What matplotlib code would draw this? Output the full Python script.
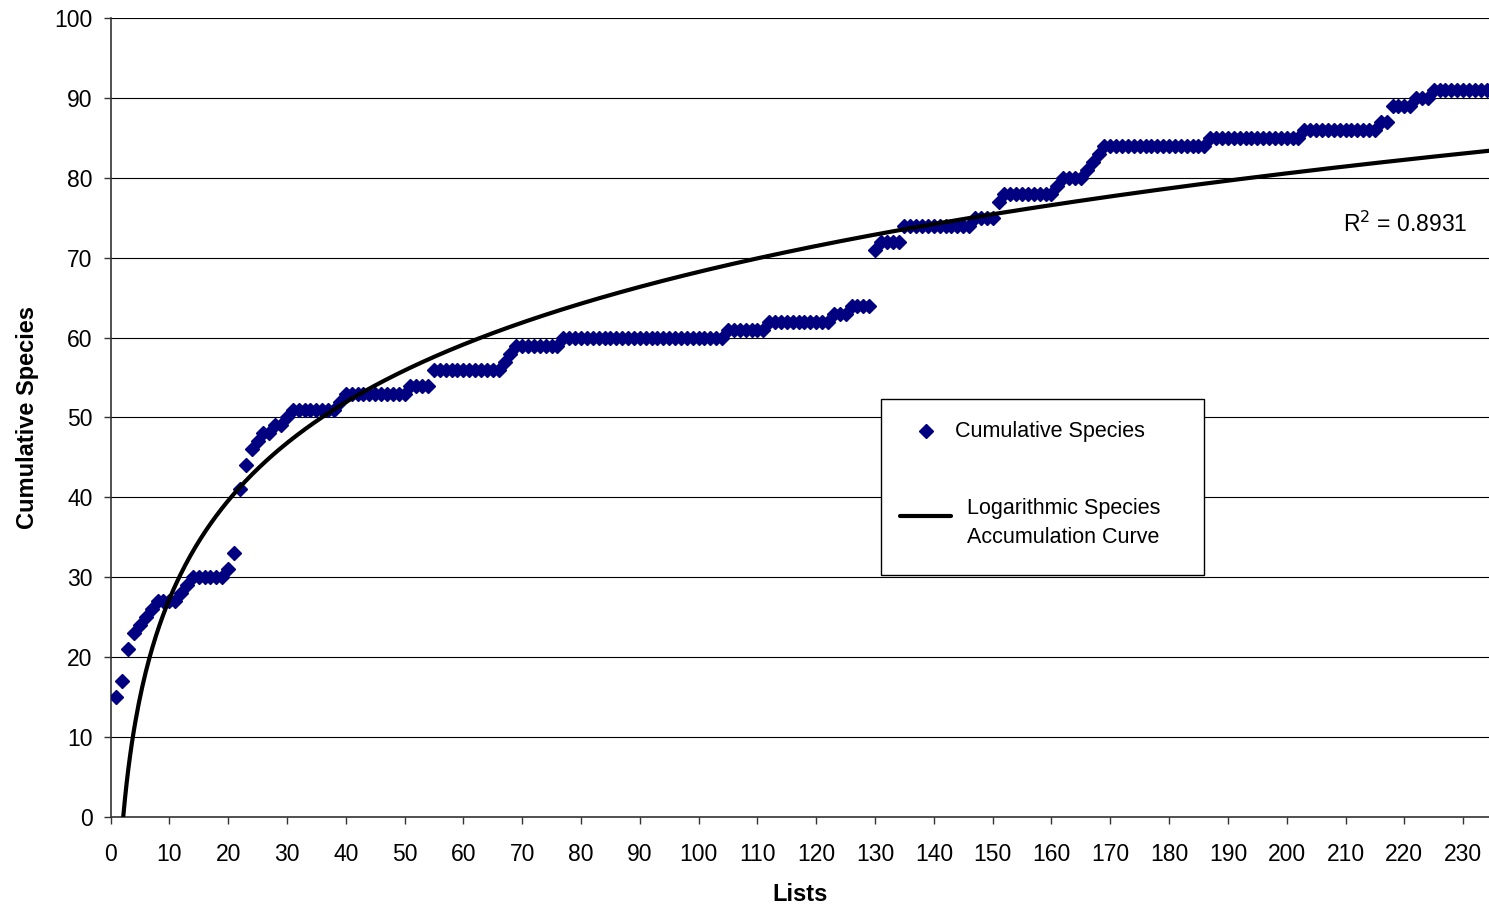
import numpy as np
import matplotlib
matplotlib.use("Agg")
import matplotlib.pyplot as plt
from matplotlib.patches import Rectangle
from matplotlib.lines import Line2D

plt.rcParams['font.family'] = ['Liberation Sans', 'DejaVu Sans']

# ---- data: step runs (species value, number of consecutive lists) ----
run_values = [15, 17, 21, 23, 24, 25, 26, 27, 28, 29, 30, 31, 33, 41, 44, 46, 47, 48, 49, 50,
              51, 52, 53, 54, 56, 57, 58, 59, 60, 61, 62, 63, 64, 71, 72, 74, 75, 77, 78, 79,
              80, 81, 82, 83, 84, 85, 86, 87, 89, 90, 91]
run_lengths = [1, 1, 1, 1, 1, 1, 1, 4, 1, 1, 6, 1, 1, 1, 1, 1, 1, 2, 2, 1,
               8, 1, 11, 4, 12, 1, 1, 8, 28, 7, 11, 3, 4, 1, 4, 12, 4, 1, 9, 1,
               4, 1, 1, 1, 18, 16, 13, 2, 4, 3, 10]

species = np.repeat(run_values, run_lengths).astype(float)
lists = np.arange(1, len(species) + 1)

x_ticks = list(range(0, 240, 10))
y_ticks = list(range(0, 110, 10))
r2_label = "R$^2$ = 0.8931"
series_label = "Cumulative Species"
curve_label = "Logarithmic Species\nAccumulation Curve"

# logarithmic trendline fitted to the data
a, b = np.polyfit(np.log(lists), species, 1)
xc = np.linspace(1, lists.max() + 1, 800)
yc = a * np.log(xc) + b

W, H = 1489, 909
fig = plt.figure(figsize=(W / 100, H / 100), dpi=100)
ax = fig.add_axes([110.5 / W, 1 - 817 / H, 1 - 110.5 / W, (817 - 18) / H])

ax.set_xlim(0, 234.4)
ax.set_ylim(0, 100)

for yv in y_ticks[1:]:
    ax.axhline(yv, color='black', lw=0.8, zorder=1)

ax.plot(lists, species, linestyle='none', marker='D', ms=7.4,
        color='#000080', markeredgecolor='#000080', zorder=3)
ax.plot(xc, yc, color='black', lw=3.0, zorder=4, solid_capstyle='butt')

ax.set_xticks(x_ticks)
ax.set_yticks(y_ticks)
ax.tick_params(axis='both', direction='out', length=5, width=1, labelsize=16.5, color='#333333')
ax.tick_params(axis='x', pad=14)
ax.tick_params(axis='y', pad=8)

for s in ['top', 'right']:
    ax.spines[s].set_visible(False)
for s in ['left', 'bottom']:
    ax.spines[s].set_color('#333333')
    ax.spines[s].set_linewidth(1.2)

ax.set_xlabel("Lists", fontsize=17, fontweight='bold', labelpad=12)
ax.set_ylabel("Cumulative Species", fontsize=17, fontweight='bold', labelpad=11)

ax.text(230.8, 74.2, r2_label, ha='right', va='center', fontsize=16.5)

# ---- legend box drawn in figure pixel coordinates ----
def fx(px):
    return px / W

def fy(py):
    return 1 - py / H

frame = Rectangle((fx(881), fy(575)), fx(1204) - fx(881), fy(399) - fy(575),
                  transform=fig.transFigure, facecolor='white', edgecolor='black',
                  lw=1.0, zorder=10)
fig.add_artist(frame)
fig.add_artist(Line2D([fx(926)], [fy(431)], transform=fig.transFigure, linestyle='none',
                      marker='D', ms=7.4, color='#000080', zorder=11))
fig.text(fx(955), fy(431), series_label, ha='left', va='center', fontsize=15.5, zorder=11)
fig.add_artist(Line2D([fx(900), fx(951)], [fy(516), fy(516)], transform=fig.transFigure,
                      color='black', lw=3.0, zorder=11, solid_capstyle='round'))
fig.text(fx(967), fy(523), curve_label, ha='left', va='center', fontsize=15.5,
         linespacing=1.45, zorder=11)

fig.savefig("out.png", dpi=100)
